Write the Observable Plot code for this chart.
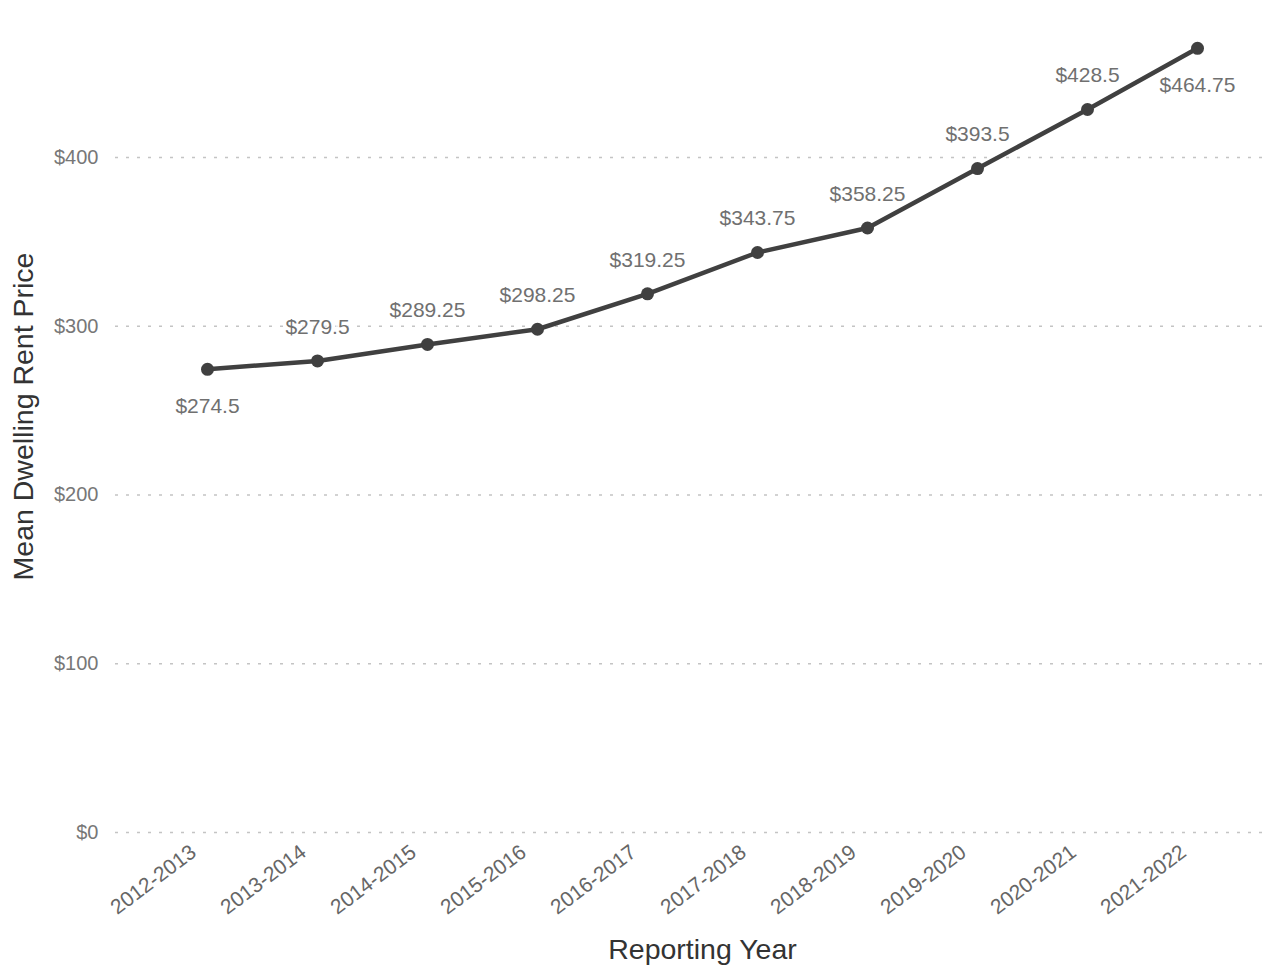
<!DOCTYPE html>
<html>
<head>
<meta charset="utf-8">
<script src="https://cdn.jsdelivr.net/npm/d3@7"></script>
<script src="https://cdn.jsdelivr.net/npm/@observablehq/plot@0.6"></script>
<style>
  html, body { margin: 0; padding: 0; background: #fff; }
  #chart svg { display: block; }
</style>
</head>
<body>
<div id="chart"></div>
<script>
const years = ["2012-2013", "2013-2014", "2014-2015", "2015-2016", "2016-2017",
               "2017-2018", "2018-2019", "2019-2020", "2020-2021", "2021-2022"];
const rent = [274.5, 279.5, 289.25, 298.25, 319.25, 343.75, 358.25, 393.5, 428.5, 464.75];
const labelSide = ["below", "above", "above", "above", "above",
                   "above", "above", "above", "above", "below"];
const yTicks = [0, 100, 200, 300, 400];
const yTitle = "Mean Dwelling Rent Price";
const xTitle = "Reporting Year";

const data = years.map((year, i) => ({year, rent: rent[i], side: labelSide[i]}));
const fmt = v => "$" + v;

const font = "'Liberation Sans', Arial, sans-serif";

const chart = Plot.plot({
  width: 1265,
  height: 966,
  marginTop: 0,
  marginLeft: 115,
  marginRight: 0,
  marginBottom: 134,
  style: {fontFamily: font, fontSize: "20px", background: "#fff", color: "#666"},
  x: {type: "point", domain: years, range: [205, 1199], padding: 0},
  y: {domain: [0, 832 / 1.6873]},
  marks: [
    Plot.ruleY(yTicks, {stroke: "#c4c4c4", strokeWidth: 1.5, strokeDasharray: "3,8"}),
    Plot.axisY({ticks: yTicks, tickSize: 0, tickPadding: 17, tickFormat: d => "$" + d,
                fontSize: 20, fill: "#777", label: null}),
    Plot.axisX({tickSize: 0, tickRotate: -37, tickPadding: 15, dx: -14, dy: 2,
                fontSize: 21, fill: "#666", label: null}),
    Plot.line(data, {x: "year", y: "rent", stroke: "#404040", strokeWidth: 4.5}),
    Plot.dot(data, {x: "year", y: "rent", r: 6.5, fill: "#404040", stroke: "none"}),
    Plot.text(data.filter(d => d.side === "above"), {
      x: "year", y: "rent", text: d => fmt(d.rent), dy: -34,
      fontSize: 21, fill: "#707070", stroke: "white", strokeWidth: 7, strokeOpacity: 0.7
    }),
    Plot.text(data.filter(d => d.side === "below"), {
      x: "year", y: "rent", text: d => fmt(d.rent), dy: 37,
      fontSize: 21, fill: "#707070", stroke: "white", strokeWidth: 7, strokeOpacity: 0.7
    }),
    Plot.text([yTitle], {frameAnchor: "left", dx: -92, rotate: -90, textAnchor: "middle",
      lineAnchor: "middle", fontSize: 28.5, fill: "#333"}),
    Plot.text([xTitle], {frameAnchor: "bottom", dx: 12, dy: 126, lineAnchor: "bottom",
      fontSize: 28.5, fill: "#333"})
  ]
});
document.getElementById("chart").appendChild(chart);
</script>
</body>
</html>
